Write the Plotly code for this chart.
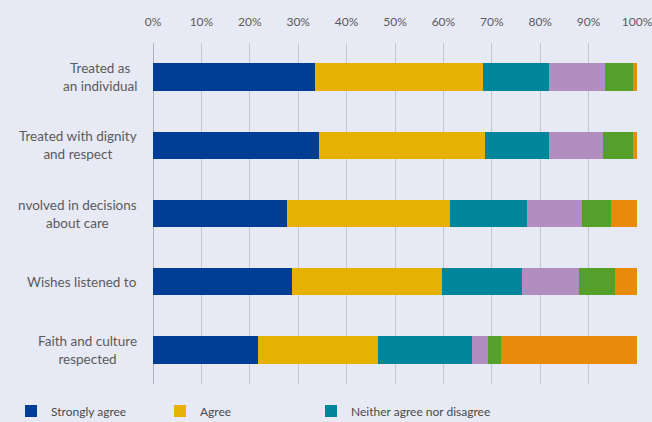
import plotly.graph_objects as go

# Survey statements, top to bottom
statements = [
    "Treated as<br>an individual",
    "Treated with dignity<br>and respect",
    "nvolved in decisions<br>about care",
    "Wishes listened to",
    "Faith and culture<br>respected",
]

# Response shares (%) for each statement
strongly_agree = [33.4, 34.3, 27.7, 28.7, 21.7]
agree = [34.7, 34.2, 33.6, 31.1, 24.8]
neither = [13.8, 13.4, 15.9, 16.5, 19.5]
disagree = [11.4, 11.1, 11.4, 11.8, 3.2]
strongly_disagree = [5.9, 6.2, 6.1, 7.4, 2.8]
not_applicable = [0.8, 0.8, 5.3, 4.5, 28.0]

tick_values = [0, 10, 20, 30, 40, 50, 60, 70, 80, 90, 100]
tick_labels = [f"{v}%" for v in tick_values]

# name, values, colour, legend group (None = not listed)
series = [
    ("Strongly agree", strongly_agree, "#003E95", "legend"),
    ("Agree", agree, "#E6B103", "legend2"),
    ("Neither agree nor disagree", neither, "#00869A", "legend3"),
    ("Disagree", disagree, "#B28DC0", None),
    ("Strongly disagree", strongly_disagree, "#55A02B", None),
    ("Not applicable", not_applicable, "#E88A0C", None),
]

FONT = "Lato, 'DejaVu Sans', sans-serif"
TEXT = "#5b5b5b"

fig = go.Figure()
for name, vals, color, leg in series:
    fig.add_trace(go.Bar(
        y=statements, x=vals, name=name, orientation="h",
        marker=dict(color=color, line=dict(width=0)),
        showlegend=leg is not None, legend=leg or "legend",
    ))

# Category labels: centred multi-line text, right edge just left of the axis
for s in statements:
    fig.add_annotation(
        x=0, xref="paper", y=s, yref="y", text=s, showarrow=False,
        xanchor="right", yanchor="middle", align="center", xshift=-14,
        font=dict(family=FONT, size=13.5, color=TEXT),
    )

legend_style = dict(
    orientation="h", xref="container", yref="container",
    xanchor="left", y=0.026, yanchor="middle",
    font=dict(family=FONT, size=12, color="#4a4a4a"),
    bgcolor="rgba(0,0,0,0)",
)

fig.update_layout(
    width=652, height=422,
    margin=dict(l=153, r=15, t=43, b=38, autoexpand=False),
    paper_bgcolor="#E7E9F5", plot_bgcolor="#E7E9F5",
    barmode="stack", bargap=0.6,
    font=dict(family=FONT, size=12, color=TEXT),
    legend=dict(x=11 / 652, **legend_style),
    legend2=dict(x=160 / 652, **legend_style),
    legend3=dict(x=311 / 652, **legend_style),
)
fig.update_xaxes(
    side="top", range=[0, 100], tickvals=tick_values, ticktext=tick_labels,
    showgrid=True, gridcolor="#C4C6D2", gridwidth=1,
    zeroline=True, zerolinecolor="#AFB1BE", zerolinewidth=1,
    showline=False, ticks="", fixedrange=True,
    ticklabeloverflow="allow", ticklabelstandoff=14,
    tickfont=dict(family=FONT, size=12, color=TEXT),
)
fig.update_yaxes(
    autorange="reversed", showticklabels=False, showgrid=False,
    zeroline=False, showline=False, ticks="", fixedrange=True,
)

fig.write_html("out.html")
